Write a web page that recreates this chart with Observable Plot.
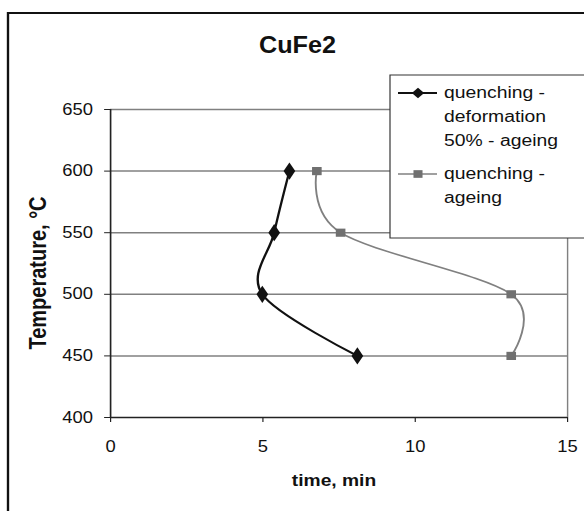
<!DOCTYPE html>
<html><head><meta charset="utf-8">
<script src="https://cdn.jsdelivr.net/npm/d3@7"></script>
<script src="https://cdn.jsdelivr.net/npm/@observablehq/plot@0.6"></script>
<style>html,body{margin:0;padding:0;background:#fff;} svg{display:block}</style>
</head><body><div id="chart"></div>
<script>
const title = "CuFe2";
const xLabel = "time, min";
const yLabel = "Temperature, °C";
const temperatures = [600, 550, 500, 450];
const timeQuenchDeformAge = [5.87, 5.37, 4.98, 8.1];
const timeQuenchAge = [6.77, 7.55, 13.15, 13.15];
const seriesNames = ["quenching - deformation 50% - ageing", "quenching - ageing"];
const legendLines = [["quenching -", "deformation", "50% - ageing"], ["quenching -", "ageing"]];
const xTicks = [0, 5, 10, 15];
const yTicks = [400, 450, 500, 550, 600, 650];

// the reference is horizontally stretched; draw in a narrower space and stretch
const S = 1.18, W = 584, H = 511, IW = W / S;
const FONT = "'Liberation Sans', Arial, sans-serif";

const rows1 = temperatures.map((t, i) => ({series: seriesNames[0], time: timeQuenchDeformAge[i], temp: t}));
const rows2 = temperatures.map((t, i) => ({series: seriesNames[1], time: timeQuenchAge[i], temp: t}));

const svg = Plot.plot({
  width: IW, height: H,
  marginLeft: 110 / S, marginRight: IW - 567 / S, marginTop: 109, marginBottom: 94,
  x: {domain: [0, 15], ticks: xTicks, tickSize: 5, tickPadding: 18, label: null},
  y: {domain: [400, 650], ticks: yTicks, tickSize: 5, tickPadding: 10, label: null},
  style: {fontFamily: FONT, fontSize: "15.6px", color: "#222", background: "#fff"},
  marks: [
    Plot.ruleY(yTicks.filter(v => v > 400), {stroke: "#808080", strokeWidth: 1.5}),
    Plot.ruleX([15], {stroke: "#808080", strokeWidth: 1.2}),
    Plot.ruleX([0], {stroke: "#222", strokeWidth: 1.4}),
    Plot.ruleY([400], {stroke: "#222", strokeWidth: 1.5}),
    Plot.line(rows2, {x: "time", y: "temp", curve: "cardinal", tension: 0, stroke: "#808080", strokeWidth: 1.6}),
    Plot.line(rows1, {x: "time", y: "temp", curve: "cardinal", tension: 0, stroke: "#111", strokeWidth: 2}),
    Plot.dot(rows2, {x: "time", y: "temp", symbol: "square", fill: "#707070", r: 4.6}),
    Plot.dot(rows1, {x: "time", y: "temp", symbol: "diamond", fill: "#111", r: 5.2})
  ]
});

svg.setAttribute("viewBox", `0 0 ${IW} ${H}`);
svg.setAttribute("width", W);
svg.setAttribute("height", H);
svg.setAttribute("preserveAspectRatio", "none");
svg.style.width = W + "px";
svg.style.height = H + "px";
svg.style.maxWidth = "none";

const g = d3.select(svg);
g.selectAll("g[aria-label$='tick label']").attr("font-size", 15.6).attr("font-family", FONT);
g.selectAll("g[aria-label$='tick label'] text").attr("fill", "#111").style("font-size", "15.6px");

// outer chart border
g.append("rect").attr("x", 8 / S).attr("y", 13).attr("width", 700).attr("height", 600)
  .attr("fill", "none").attr("stroke", "#111").attr("stroke-width", 2);

g.append("text").attr("transform", `translate(${297.5 / S},53.3) scale(0.93,1)`).attr("text-anchor", "middle")
  .attr("font-family", FONT).attr("font-weight", "bold").attr("font-size", 23).attr("fill", "#111").text(title);
g.append("text").attr("x", 334 / S).attr("y", 486).attr("text-anchor", "middle")
  .attr("font-family", FONT).attr("font-weight", "bold").attr("font-size", 16.3).attr("fill", "#111").text(xLabel);
g.append("text").attr("transform", `translate(${38 / S},273) rotate(-90)`).attr("dy", "0.35em").attr("text-anchor", "middle")
  .attr("font-family", FONT).attr("font-weight", "bold").attr("font-size", 20).attr("fill", "#111").text(yLabel);

// legend
const lg = g.append("g").attr("font-family", FONT).attr("font-size", 16.4).attr("fill", "#111").attr("text-anchor", "start");
lg.append("rect").attr("x", 390 / S).attr("y", 75).attr("width", 300).attr("height", 163)
  .attr("fill", "#fff").attr("stroke", "#333").attr("stroke-width", 1);
const entries = [
  {y: 93, color: "#111", width: 2, symbol: d3.symbolDiamond2, size: 70, fill: "#111", baselines: [98.5, 122.5, 146.5]},
  {y: 174, color: "#808080", width: 1.6, symbol: d3.symbolSquare2, size: 75, fill: "#707070", baselines: [179, 203.3]}
];
entries.forEach((e, i) => {
  lg.append("line").attr("x1", 398 / S).attr("x2", 437 / S).attr("y1", e.y).attr("y2", e.y)
    .attr("stroke", e.color).attr("stroke-width", e.width);
  lg.append("path").attr("d", d3.symbol(e.symbol, e.size)()).attr("transform", `translate(${418 / S},${e.y})`)
    .attr("fill", e.fill);
  legendLines[i].forEach((t, j) => {
    lg.append("text").attr("x", 444 / S).attr("y", e.baselines[j]).text(t);
  });
});

document.getElementById("chart").appendChild(svg);
</script>
</body></html>
